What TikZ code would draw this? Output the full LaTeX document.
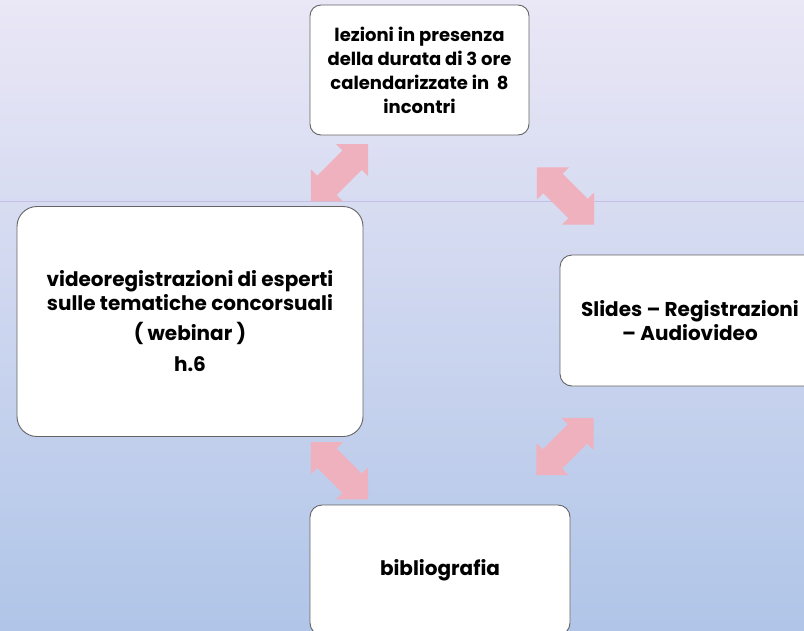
\documentclass[tikz,border=0pt]{standalone}
\usepackage{fontspec}
\setmainfont{Poppins}
\usetikzlibrary{shapes.arrows,calc}
\definecolor{bgtop}{RGB}{234,231,246}
\definecolor{bgbot}{RGB}{176,197,232}
\definecolor{arrowpink}{RGB}{240,177,190}
\definecolor{boxline}{RGB}{100,100,100}
\definecolor{rulelav}{RGB}{196,190,226}
\tikzset{
  box/.style={draw=boxline,fill=white,line width=0.9pt,align=center,inner sep=0pt,
    font=\bfseries\fontsize{20}{24}\selectfont},
  dblarrow/.style={double arrow,fill=arrowpink,draw=none,inner xsep=0pt,inner ysep=13.5pt,
    minimum height=81pt,double arrow head extend=9pt,double arrow tip angle=90}
}
\begin{document}
\begin{tikzpicture}[x=1pt,y=-1pt]
  \useasboundingbox (0,0) rectangle (804,630);
  \clip (0,0) rectangle (804,630);
  \shade[top color=bgtop,bottom color=bgbot] (0,0) rectangle (804,630);
  \draw[rulelav,line width=0.8pt] (0,201) -- (804,201);
  % boxes
  \node[box,rounded corners=11pt,minimum width=219pt,minimum height=130pt,
    font=\bfseries\fontsize{18}{24}\selectfont] (lezioni) at (419.5,70)
    {lezioni in presenza\\della durata di 3 ore\\calendarizzate in\ \ 8\\incontri};
  \node[box,rounded corners=20pt,minimum width=346pt,minimum height=230pt] (video) at (190,321.5)
    {videoregistrazioni di esperti\\sulle tematiche concorsuali\\[6pt]( webinar )\\[7pt]h.6};
  \node[box,rounded corners=12pt,minimum width=260pt,minimum height=131pt] (slides) at (690,320.5)
    {Slides – Registrazioni\\– Audiovideo};
  \node[box,rounded corners=12pt,minimum width=260pt,minimum height=130pt] (biblio) at (440,570)
    {bibliografia};
  % arrows
  \node[dblarrow,rotate=45] (arrTL) at ($(lezioni.south west)!0.5!(video.north east)+(3,2)$) {};
  \node[dblarrow,rotate=-45] (arrTR) at ($(lezioni.south east)!0.5!(slides.north west)+(21,1)$) {};
  \node[dblarrow,rotate=45] (arrBR) at ($(slides.south west)!0.5!(biblio.north east)+(0,1)$) {};
  \node[dblarrow,rotate=-45] (arrBL) at ($(video.south east)!0.5!(biblio.north west)+(3,0)$) {};
\end{tikzpicture}
\end{document}
